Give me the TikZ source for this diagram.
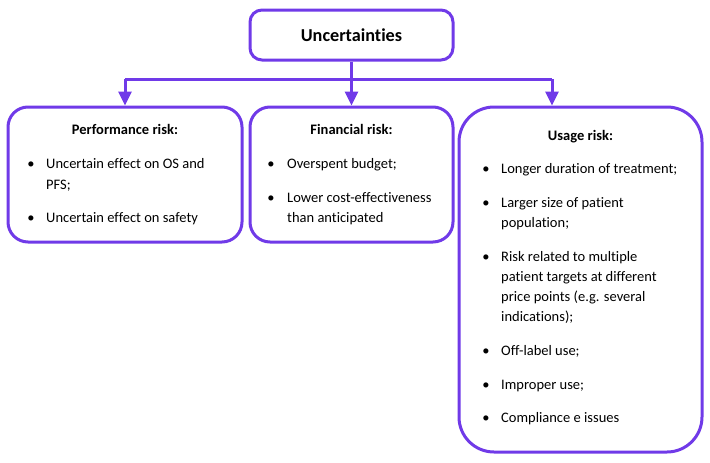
\documentclass[tikz,border=0pt]{standalone}
\usepackage{fontspec}
\setmainfont[Ligatures=NoCommon]{Carlito}
\usetikzlibrary{arrows.meta}
\definecolor{vio}{RGB}{112,58,232}
\tikzset{
  box/.style={draw=vio, line width=3pt, rounded corners=#1, fill=white},
  box/.default=20pt,
  conn/.style={draw=vio, line width=3pt},
  arr/.style={conn, -{Triangle[width=13pt,length=14pt]}},
  ln/.style={anchor=base west, inner sep=0pt, font=\fontsize{14.5}{20}\selectfont},
  hd/.style={anchor=base, inner sep=0pt, font=\fontsize{14.5}{20}\selectfont\bfseries},
  bul/.style={anchor=base, inner sep=0pt, font=\fontsize{14.5}{20}\selectfont},
}
\begin{document}
\begin{tikzpicture}[x=1pt,y=-1pt]
\useasboundingbox (0,0) rectangle (710,463);
% boxes
\node[box=12pt, minimum width=203pt, minimum height=50pt] (top) at (351.5,35) {};
\node[font=\fontsize{18.2}{20}\selectfont\bfseries, inner sep=0pt] (toptxt) at (top.center) {Uncertainties};
\node[box, minimum width=234pt, minimum height=135pt] (perf) at (125,174.5) {};
\node[box, minimum width=203pt, minimum height=135pt] (fin) at (351.5,174.5) {};
\node[box=35pt, minimum width=243pt, minimum height=345pt] (usage) at (580.5,279.5) {};
% connectors
\coordinate (h) at (0,79);
\coordinate (ua) at (552,0);
\draw[conn] (perf.north |- h) -- (ua |- h);
\draw[arr] (top.south) -- (fin.north);
\draw[arr] (perf.north |- h) -- (perf.north);
\draw[arr] (ua |- h) -- (ua |- usage.north);
% performance
\node[hd] (p0) at (125,134) {Performance risk:};
\node[bul] (pb1) at (31,168) {•};
\node[ln] (p1a) at (46,168) {Uncertain effect on OS and};
\node[ln] (p1b) at (46,189) {PFS;};
\node[bul] (pb2) at (31,222) {•};
\node[ln] (p2a) at (46,222) {Uncertain effect on safety};
% financial
\node[hd] (f0) at (351.5,134) {Financial risk:};
\node[bul] (fb1) at (271,168) {•};
\node[ln] (f1a) at (287,168) {Overspent budget;};
\node[bul] (fb2) at (271,202) {•};
\node[ln] (f2a) at (287,202) {Lower cost-effectiveness};
\node[ln] (f2b) at (287,222) {than anticipated};
% usage
\node[hd] (u0) at (580.5,140) {Usage risk:};
\node[bul] (ub1) at (486,173) {•};
\node[ln] (u1a) at (501,173) {Longer duration of treatment;};
\node[bul] (ub2) at (486,207) {•};
\node[ln] (u2a) at (501,207) {Larger size of patient};
\node[ln] (u2b) at (501,227) {population;};
\node[bul] (ub3) at (486,261) {•};
\node[ln] (u3a) at (501,261) {Risk related to multiple};
\node[ln] (u3b) at (501,281) {patient targets at different};
\node[ln] (u3c) at (501,301) {price points (e.g. several};
\node[ln] (u3d) at (501,321) {indications);};
\node[bul] (ub4) at (486,355) {•};
\node[ln] (u4a) at (501,355) {Off-label use;};
\node[bul] (ub5) at (486,389) {•};
\node[ln] (u5a) at (501,389) {Improper use;};
\node[bul] (ub6) at (486,422) {•};
\node[ln] (u6a) at (501,422) {Compliance e issues};
\end{tikzpicture}
\end{document}
